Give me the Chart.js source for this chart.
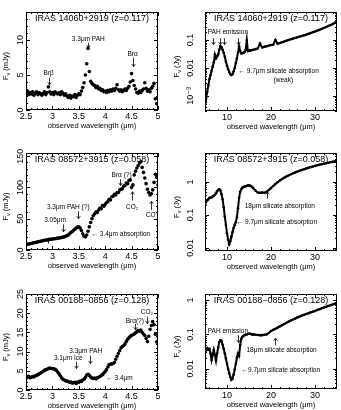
<!DOCTYPE html>
<html>
<head>
<meta charset="utf-8">
<script src="https://cdn.jsdelivr.net/npm/chart.js@4"></script>
<style>
html, body { margin: 0; padding: 0; background: #fff; }
#wrap { position: relative; width: 341px; height: 410px; overflow: hidden; }
canvas { position: absolute; }
</style>
</head>
<body>
<div id="wrap">
  <canvas id="c1"></canvas><canvas id="c2"></canvas>
  <canvas id="c3"></canvas><canvas id="c4"></canvas>
  <canvas id="c5"></canvas><canvas id="c6"></canvas>
</div>
<script>
// --- dados: espectros L-band (mJy) ---
const waveNIR = [2.5,2.525,2.55,2.575,2.6,2.625,2.65,2.675,2.7,2.725,2.75,2.775,2.8,2.825,2.85,2.875,
  2.9,2.925,2.95,2.975,3,3.025,3.05,3.075,3.1,3.125,3.15,3.175,3.2,3.225,3.25,3.275,
  3.3,3.325,3.35,3.375,3.4,3.425,3.45,3.475,3.5,3.525,3.55,3.575,3.6,3.625,3.65,3.675,
  3.7,3.725,3.75,3.775,3.8,3.825,3.85,3.875,3.9,3.925,3.95,3.975,4,4.025,4.05,4.075,
  4.1,4.125,4.15,4.175,4.2,4.225,4.25,4.275,4.3,4.325,4.35,4.375,4.4,4.425,4.45,4.475,
  4.5,4.525,4.55,4.575,4.6,4.625,4.65,4.675,4.7,4.725,4.75,4.775,4.8,4.825,4.85,4.875,
  4.9,4.925,4.95,4.975,5];

// IRAS 14060+2919
const fluxA = [2.4,2.7,2.2,2.5, 2.3,2.6,2.1,2.4, 2.6,2.2,2.5,2.3, 2.1,2.4,2.6,2.2,
  2.5,3.3,2.6,2.3, 2.5,2.2,2.6,2.4, 2.3,2.5,2.2,2.6, 2.4,2.1,2.3,2.0,
  1.8,2.1,1.7,2.0, 1.9,2.2,1.8,2.1, 2.3,2.2,2.7,3.2, 3.9,5.0,6.6,8.8,
  5.5,4.1,3.8,3.6, 3.5,3.2,3.4,3.0, 3.1,2.8,2.9,2.6, 2.7,2.5,2.8,2.6,
  2.9,2.7,3.0,2.8, 3.1,3.6,2.9,2.7, 2.9,2.6,2.8,3.0, 2.8,3.1,3.4,4.0,
  5.2,4.2,3.5,3.0, 2.5,2.4,2.7,2.5, 2.8,3.0,3.9,3.1, 2.7,2.9,2.6,3.1,
  3.4,3.8,1.6,0.9, 1.8];

// IRAS 08572+3915
const fluxB = [8,9,9.5,10, 10.5,11,11.5,12, 12.5,13,13.5,14, 14.5,15,15.5,16,
  16,16.5,17,17, 17.5,18,18,18.5, 19,19,19.5,20, 20.5,21,22,23,
  24,26,28,29.5, 31,33,35,36.5, 37,35,31,26, 22,21,24,30,
  37,44,50,55, 58,61,60,64, 67,66,71,70, 73,76,77,81,
  80,85,86,89, 88,92,92,96, 97,98,102,103, 107,106,111,112,
  100,104,120,126, 131,135,139,141, 132,124,115,106, 97,92,88,90,
  96,108,121,116, 104];

// IRAS 00188-0856
const fluxC = [3.5,3.3,3.6,3.2, 3.3,3.5,3.4,3.7, 3.8,4.0,4.2,4.4, 4.6,4.9,5.1,5.3,
  5.4,5.6,5.7,5.6, 5.6,5.5,5.4,5.1, 4.7,4.2,3.7,3.2, 2.8,2.6,2.4,2.3,
  2.2,2.0,2.1,1.8, 1.9,2.0,1.7,2.1, 2.0,2.3,2.2,2.6, 2.8,3.3,3.9,4.1,
  3.8,3.4,3.1,3.0, 3.1,2.9,3.2,3.3, 3.5,3.8,4.0,4.4, 4.8,5.3,6.0,6.6,
  6.7,6.8,6.9,7.2, 8.0,8.8,9.5,10.3, 11.0,11.3,11.6,12.0, 12.6,13.2,13.6,14.0,
  14.2,14.4,14.6,14.9, 15.2,15.5,15.3,15.6, 15.0,14.6,14.2,13.4, 12.6,14.0,15.8,16.8,
  17.8,17.0,14.5,12.5, 14.0];

// --- dados: espectros IRS (Jy) ---
const waveMIR = [5,5.25,5.5,5.75,6,6.25,6.5,6.75,7,7.25,7.5,7.75,8,8.25,8.5,8.75,
  9,9.25,9.5,9.75,10,10.25,10.5,10.75,11,11.25,11.5,11.75,12,12.25,12.5,12.75,
  13,13.25,13.5,13.75,14,14.25,14.5,14.75,15,15.25,15.5,15.75,16,
  16.5,17,17.5,18,18.5,19,19.5,20,20.5,21,21.5,22,22.5,23,23.5,24,
  24.5,25,25.5,26,26.5,27,27.5,28,28.5,29,29.5,30,30.5,31,31.5,32,
  32.5,33,33.5,34,34.5,35];

const fluxD = [0.0004,0.0008,0.0014,0.0024,0.004,0.0055,0.008,0.011,
  0.016,0.03,0.022,0.026,0.03,0.045,0.06,0.055,
  0.045,0.035,0.025,0.017,0.012,0.009,0.0072,0.006,
  0.0056,0.006,0.0075,0.01,0.015,0.022,0.035,0.06,
  0.04,0.033,0.034,0.035,0.037,0.045,0.1,0.04,
  0.041,0.042,0.043,0.044,0.045,
  0.047,0.05,0.075,0.054,0.057,0.06,0.063,0.066,
  0.068,0.1,0.074,0.078,0.083,0.088,0.094,0.1,
  0.106,0.112,0.118,0.125,0.132,0.139,0.147,0.155,
  0.165,0.176,0.188,0.2,0.215,0.23,0.248,0.268,
  0.29,0.315,0.34,0.37,0.41,0.45];

const fluxE = [0.21,0.25,0.28,0.3,0.33,0.33,0.34,0.36,
  0.38,0.41,0.45,0.52,0.58,0.6,0.55,0.43,
  0.3,0.17,0.09,0.05,0.028,0.018,0.013,0.016,
  0.022,0.03,0.04,0.05,0.06,0.085,0.16,0.33,
  0.5,0.6,0.67,0.7,0.72,0.74,0.76,0.78,
  0.78,0.77,0.74,0.7,0.64,
  0.54,0.48,0.47,0.48,0.47,0.5,0.57,0.65,
  0.75,0.86,0.98,1.1,1.22,1.34,1.46,1.58,
  1.7,1.82,1.94,2.05,2.17,2.3,2.42,2.55,
  2.67,2.8,2.92,3.05,3.18,3.3,3.42,3.55,
  3.67,3.8,3.92,4.05,4.17,4.3];

const fluxF = [0.028,0.035,0.04,0.036,0.038,0.028,0.018,0.026,
  0.036,0.025,0.017,0.028,0.042,0.06,0.068,0.065,
  0.05,0.038,0.028,0.02,0.014,0.01,0.0075,0.0058,
  0.0048,0.0052,0.0068,0.0095,0.014,0.021,0.028,0.024,
  0.05,0.075,0.085,0.09,0.095,0.098,0.1,0.103,
  0.105,0.104,0.102,0.1,0.1,
  0.098,0.096,0.095,0.095,0.097,0.1,0.11,0.125,
  0.135,0.145,0.157,0.17,0.185,0.2,0.217,0.235,
  0.253,0.27,0.29,0.31,0.33,0.35,0.37,0.39,
  0.41,0.435,0.457,0.48,0.51,0.54,0.57,0.6,
  0.63,0.67,0.7,0.74,0.77,0.8];

// --- rótulos dos eixos ---
const titles = ['IRAS 14060+2919 (z=0.117)', 'IRAS 08572+3915 (z=0.058)', 'IRAS 00188\u22120856 (z=0.128)'];
const nirTicks = [2.5, 3, 3.5, 4, 4.5, 5];
const nirLabels = ['2.5', '3', '3.5', '4', '4.5', '5'];
const mirTicks = [10, 20, 30];
const mirLabels = ['10', '20', '30'];
const yTicksA = [0, 5, 10];           const yLabelsA = ['0', '5', '10'];
const yTicksB = [0, 50, 100, 150];    const yLabelsB = ['0', '50', '100', '150'];
const yTicksC = [0, 5, 10, 15, 20, 25]; const yLabelsC = ['0', '5', '10', '15', '20', '25'];
const yTicksD = [0.001, 0.01, 0.1];   const yLabelsD = ['10\u207B\u00B3', '0.01', '0.1'];
const yTicksE = [0.01, 0.1, 1];       const yLabelsE = ['0.01', '0.1', '1'];
const yTicksF = [0.01, 0.1, 1];       const yLabelsF = ['0.01', '0.1', '1'];

// --- anotações (coordenadas de dados) ---
const notesA = [{t: 'Br\u03B2', x: 2.93, y: 5.2}, {t: '3.3\u03BCm PAH', x: 3.68, y: 10.1}, {t: 'Br\u03B1', x: 4.52, y: 8.0}];
const arrowsA = [{x: 2.93, from: 4.6, to: 3.6}, {x: 3.68, from: 9.6, to: 8.9}, {x: 4.52, from: 7.5, to: 6.2}];

const notesB = [{t: 'Br\u03B1 (?)', x: 4.31, y: 120}, {t: 'CO\u2082', x: 4.51, y: 69}, {t: 'CO', x: 4.86, y: 56},
  {t: '3.3\u03BCm PAH (?)', x: 3.3, y: 69}, {t: '3.05\u03BCm', x: 3.05, y: 48},
  {t: '\u2190 3.4\u03BCm absorption', x: 3.74, y: 25, left: true}];
const arrowsB = [{x: 4.28, from: 113, to: 103}, {x: 4.51, from: 79, to: 93}, {x: 4.86, from: 64, to: 78},
  {x: 3.48, from: 62, to: 50}, {x: 3.2, from: 41, to: 29},
  {x: 2.92, from: 10, to: 16, bar: true}, {x: 3.74, from: 0, to: 5, bar: true}];

const notesC = [{t: 'Br\u03B1(?)', x: 4.56, y: 18}, {t: 'CO\u2082', x: 4.79, y: 20.2},
  {t: '3.1\u03BCm Ice', x: 3.3, y: 8.2}, {t: '3.3\u03BCm PAH', x: 3.63, y: 10},
  {t: '\u2190 3.4\u03BCm', x: 4.02, y: 3.0, left: true}];
const arrowsC = [{x: 4.57, from: 17.2, to: 15.7}, {x: 4.79, from: 19.1, to: 17.3},
  {x: 3.44, from: 7.4, to: 5.6}, {x: 3.71, from: 8.9, to: 6.9}];

const notesD = [{t: 'PAH emission', x: 10.2, y: 0.19},
  {t: '\u2190 9.7\u03BCm silicate absorption', x: 12.6, y: 0.0074, left: true},
  {t: '(weak)', x: 22.8, y: 0.0037}];
const arrowsD = [{x: 6.9, from: 0.115, to: 0.068}, {x: 8.5, from: 0.115, to: 0.068},
  {x: 9.4, from: 0.115, to: 0.068}, {x: 12.6, from: 0.115, to: 0.068}];

const notesE = [{t: '18\u03BCm silicate absorption', x: 22.0, y: 0.19},
  {t: '\u2190 9.7\u03BCm silicate absorption', x: 12.2, y: 0.06, left: true}];
const arrowsE = [{x: 19.1, from: 0.31, to: 0.5}];

const notesF = [{t: 'PAH emission', x: 10.2, y: 0.125},
  {t: '18\u03BCm silicate absorption', x: 22.4, y: 0.035},
  {t: '\u21909.7\u03BCm silicate absorption', x: 13.3, y: 0.0093, left: true}];
const arrowsF = [{x: 12.6, from: 0.095, to: 0.058}, {x: 20.9, from: 0.048, to: 0.078}];

const FONT = '"Liberation Sans", "DejaVu Sans", sans-serif';

function passos(min, max, step) {
  let out = [];
  for (let v = min; v <= max + 1e-9; v += step) out.push(+v.toFixed(4));
  return out;
}
function menoresLog(min, max) {
  let out = [];
  for (let e = Math.floor(Math.log10(min)); e <= Math.ceil(Math.log10(max)); e++) {
    for (let m = 1; m < 10; m++) {
      let v = m * Math.pow(10, e);
      if (v >= min && v <= max) out.push(v);
    }
  }
  return out;
}

const painel = [
  {id: 'c1', box: [0, 0, 170, 137], plot: [26, 12, 158, 110], x: waveNIR, y: fluxA, xr: [2.5, 5], yr: [0, 14], log: false,
   title: titles[0], unit: 'mJy', xt: nirTicks, xl: nirLabels, xm: passos(2.5, 5, 0.1), yt: yTicksA, yl: yLabelsA, ym: passos(0, 14, 1),
   notes: notesA, arrows: arrowsA, right: false},
  {id: 'c2', box: [170, 0, 171, 137], plot: [205, 12, 337, 111], x: waveMIR, y: fluxD, xr: [5, 35], yr: [0.00029, 1.0], log: true,
   title: titles[0], unit: 'Jy', xt: mirTicks, xl: mirLabels, xm: passos(6, 34, 2), yt: yTicksD, yl: yLabelsD, ym: menoresLog(0.00029, 1.0),
   notes: notesD, arrows: arrowsD, right: true},
  {id: 'c3', box: [0, 137, 170, 136], plot: [26, 153, 158, 250], x: waveNIR, y: fluxB, xr: [2.5, 5], yr: [0, 155], log: false,
   title: titles[1], unit: 'mJy', xt: nirTicks, xl: nirLabels, xm: passos(2.5, 5, 0.1), yt: yTicksB, yl: yLabelsB, ym: passos(0, 150, 10),
   notes: notesB, arrows: arrowsB, right: false},
  {id: 'c4', box: [170, 137, 171, 136], plot: [205, 153, 337, 251], x: waveMIR, y: fluxE, xr: [5, 35], yr: [0.0081, 7.5], log: true,
   title: titles[1], unit: 'Jy', xt: mirTicks, xl: mirLabels, xm: passos(6, 34, 2), yt: yTicksE, yl: yLabelsE, ym: menoresLog(0.0081, 7.5),
   notes: notesE, arrows: arrowsE, right: true},
  {id: 'c5', box: [0, 273, 170, 137], plot: [26, 294, 158, 390], x: waveNIR, y: fluxC, xr: [2.5, 5], yr: [0, 25], log: false,
   title: titles[2], unit: 'mJy', xt: nirTicks, xl: nirLabels, xm: passos(2.5, 5, 0.1), yt: yTicksC, yl: yLabelsC, ym: passos(0, 25, 1),
   notes: notesC, arrows: arrowsC, right: false},
  {id: 'c6', box: [170, 273, 171, 137], plot: [205, 294, 337, 389], x: waveMIR, y: fluxF, xr: [5, 35], yr: [0.0026, 1.49], log: true,
   title: titles[2], unit: 'Jy', xt: mirTicks, xl: mirLabels, xm: passos(6, 34, 2), yt: yTicksF, yl: yLabelsF, ym: menoresLog(0.0026, 1.49),
   notes: notesF, arrows: arrowsF, right: true}
];

// moldura, marcas internas, rótulos e anotações
function pluginMoldura(p) {
  return {
    id: 'moldura',
    afterDatasetsDraw(chart) {
      const ctx = chart.ctx, a = chart.chartArea;
      const sx = chart.scales.x, sy = chart.scales.y;
      const X = v => sx.getPixelForValue(v), Y = v => sy.getPixelForValue(v);
      ctx.save();
      ctx.strokeStyle = '#000';
      ctx.fillStyle = '#000';
      ctx.lineWidth = 1;
      ctx.strokeRect(a.left + 0.5, a.top + 0.5, a.right - a.left - 1, a.bottom - a.top - 1);

      ctx.beginPath();
      const tx = (v, len) => {
        let q = Math.round(X(v)) + 0.5;
        ctx.moveTo(q, a.bottom); ctx.lineTo(q, a.bottom - len);
        ctx.moveTo(q, a.top); ctx.lineTo(q, a.top + len);
      };
      const ty = (v, len) => {
        let q = Math.round(Y(v)) + 0.5;
        ctx.moveTo(a.left, q); ctx.lineTo(a.left + len, q);
        ctx.moveTo(a.right, q); ctx.lineTo(a.right - len, q);
      };
      p.xm.forEach(v => tx(v, 2));
      p.xt.forEach(v => tx(v, 4));
      p.ym.forEach(v => ty(v, 2));
      p.yt.forEach(v => ty(v, 4));
      ctx.stroke();

      // rótulos do eixo x
      ctx.font = '9px ' + FONT;
      ctx.textAlign = 'center';
      ctx.textBaseline = 'middle';
      p.xt.forEach((v, i) => ctx.fillText(p.xl[i], X(v), a.bottom + 6.5));
      ctx.font = '7.5px ' + FONT;
      ctx.fillText('observed wavelength (\u03BCm)', (a.left + a.right) / 2, a.bottom + 16);

      // rótulos do eixo y (girados)
      const offLab = p.right ? 14 : 5.5;
      const offTit = p.right ? 28 : 20;
      ctx.font = '9px ' + FONT;
      p.yt.forEach((v, i) => {
        ctx.save();
        ctx.translate(a.left - offLab, Y(v));
        ctx.rotate(-Math.PI / 2);
        ctx.fillText(p.yl[i], 0, 0);
        ctx.restore();
      });
      ctx.save();
      ctx.translate(a.left - offTit, (a.top + a.bottom) / 2 + 5);
      ctx.rotate(-Math.PI / 2);
      ctx.textAlign = 'left';
      const big = '7.5px ' + FONT, small = '5.5px ' + FONT;
      ctx.font = big; const wF = ctx.measureText('F').width;
      ctx.font = small; const wN = ctx.measureText('\u03BD').width;
      ctx.font = big; const resto = ' (' + p.unit + ')'; const wR = ctx.measureText(resto).width;
      let x0 = -(wF + wN + wR) / 2;
      ctx.fillText('F', x0, 0);
      ctx.font = small; ctx.fillText('\u03BD', x0 + wF, 2);
      ctx.font = big; ctx.fillText(resto, x0 + wF + wN, 0);
      ctx.restore();

      // título do painel
      ctx.font = '9px ' + FONT;
      ctx.textAlign = 'center';
      ctx.fillText(p.title, (a.left + a.right) / 2, a.top + 7);

      // anotações
      ctx.font = '6.5px ' + FONT;
      p.notes.forEach(n => {
        ctx.textAlign = n.left ? 'left' : 'center';
        ctx.fillText(n.t, X(n.x), Y(n.y));
      });
      ctx.lineWidth = 0.8;
      p.arrows.forEach(s => {
        let px = Math.round(X(s.x)) + 0.5, y1 = Y(s.from), y2 = Y(s.to);
        ctx.beginPath();
        ctx.moveTo(px, y1); ctx.lineTo(px, y2);
        if (!s.bar) {
          let d = y2 > y1 ? -1 : 1;
          ctx.moveTo(px - 1.8, y2 + d * 2.6); ctx.lineTo(px, y2); ctx.lineTo(px + 1.8, y2 + d * 2.6);
        }
        ctx.stroke();
      });
      ctx.restore();
    }
  };
}

function criarPainel(p) {
  const cv = document.getElementById(p.id);
  cv.width = p.box[2];
  cv.height = p.box[3];
  cv.style.left = p.box[0] + 'px';
  cv.style.top = p.box[1] + 'px';
  const pontos = p.x.map((v, i) => ({x: v, y: p.y[i]}));

  new Chart(cv.getContext('2d'), {
    type: 'scatter',
    data: {
      datasets: [{
        data: pontos,
        showLine: p.right,
        borderColor: '#000',
        borderWidth: 2,
        pointRadius: p.right ? 1.3 : 1.8,
        pointBackgroundColor: '#000',
        pointBorderWidth: 0,
        pointHoverRadius: 0
      }]
    },
    options: {
      responsive: false,
      animation: false,
      events: [],
      layout: {
        padding: {
          left: p.plot[0] - p.box[0],
          top: p.plot[1] - p.box[1],
          right: p.box[0] + p.box[2] - p.plot[2],
          bottom: p.box[1] + p.box[3] - p.plot[3]
        }
      },
      scales: {
        x: {type: 'linear', min: p.xr[0], max: p.xr[1], display: false},
        y: {type: p.log ? 'logarithmic' : 'linear', min: p.yr[0], max: p.yr[1], display: false}
      },
      plugins: {
        legend: {display: false},
        tooltip: {enabled: false}
      }
    },
    plugins: [pluginMoldura(p)]
  });
}

painel.forEach(criarPainel);
</script>
</body>
</html>
